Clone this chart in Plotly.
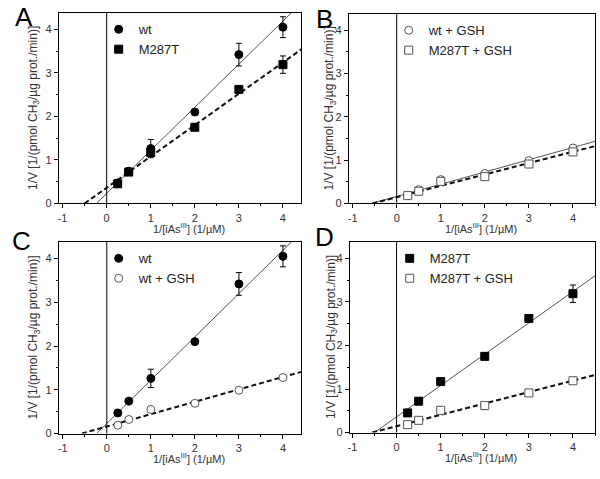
import plotly.graph_objects as go

# ---------------- data ----------------
conc = [0.25, 0.5, 1, 2, 3, 4]
wt = [0.47, 0.74, 1.26, 2.10, 3.42, 4.05]
wt_err = [0.0, 0.0, 0.21, 0.0, 0.26, 0.24]
m287t = [0.45, 0.72, 1.17, 1.75, 2.62, 3.19]
m287t_err = [0.0, 0.0, 0.0, 0.0, 0.0, 0.20]
wt_gsh = [0.19, 0.32, 0.55, 0.69, 0.99, 1.28]
m287t_gsh = [0.18, 0.28, 0.51, 0.62, 0.91, 1.19]

# linear fits (slope, intercept)
fit_wt = (0.99, 0.23)
fit_m287t = (0.72, 0.36)
fit_wt_gsh = (0.283, 0.16)
fit_m287t_gsh = (0.262, 0.145)

x_ticks = [-1, 0, 1, 2, 3, 4]
x_tick_labels = ["-1", "0", "1", "2", "3", "4"]
y_ticks = [0, 1, 2, 3, 4]
y_tick_labels = ["0", "1", "2", "3", "4"]

W, H = 600, 479
FONT = "Liberation Sans, Arial, sans-serif"

# panel geometry (px): x0, x1, ytop, ybottom, xrange, letter pos, ytitle offset
panels = {
    "A": dict(x0=57, x1=300, yt=13, yb=206, xr=[-1.086, 4.41], let=(22, 17), yto=25),
    "B": dict(x0=348, x1=595, yt=14, yb=206, xr=[-1.086, 4.50], let=(324, 19), yto=19),
    "C": dict(x0=57, x1=300, yt=245, yb=439, xr=[-1.09, 4.41], let=(20, 244), yto=25),
    "D": dict(x0=349, x1=595, yt=245, yb=438, xr=[-1.06, 4.50], let=(324, 240), yto=18),
}
YR = [0, 4.38]

fig = go.Figure()


def fit_line(fit, xr):
    s, b = fit
    xs = [-b / s, xr[1] + 0.2]
    ys = [s * v + b for v in xs]
    return xs, ys


def add_fit(fit, idx, dashed, xr):
    xs, ys = fit_line(fit, xr)
    ax = "" if idx == 1 else str(idx)
    fig.add_trace(go.Scatter(
        x=xs, y=ys, mode="lines", xaxis="x" + ax, yaxis="y" + ax,
        line=dict(color="#111111" if dashed else "#555555",
                  width=2 if dashed else 1,
                  dash="5px,3px" if dashed else "solid"),
        showlegend=False, hoverinfo="skip"))


def add_pts(yv, err, idx, name, symbol, filled, legend):
    ax = "" if idx == 1 else str(idx)
    fig.add_trace(go.Scatter(
        x=conc, y=yv, mode="markers", name=name, xaxis="x" + ax, yaxis="y" + ax,
        marker=dict(symbol=symbol, size=8,
                    color="black" if filled else "white",
                    line=dict(color="black" if filled else "#555555", width=1)),
        error_y=dict(type="data", array=err, visible=True,
                     color="black", thickness=1, width=3) if err is not None else None,
        legend=legend, showlegend=True))


# Panel A
add_fit(fit_wt, 1, False, panels["A"]["xr"])
add_fit(fit_m287t, 1, True, panels["A"]["xr"])
add_pts(wt, wt_err, 1, "wt", "circle", True, "legend")
add_pts(m287t, m287t_err, 1, "M287T", "square", True, "legend")
# Panel B
add_fit(fit_wt_gsh, 2, False, panels["B"]["xr"])
add_fit(fit_m287t_gsh, 2, True, panels["B"]["xr"])
add_pts(wt_gsh, None, 2, "wt + GSH", "circle", False, "legend2")
add_pts(m287t_gsh, None, 2, "M287T + GSH", "square", False, "legend2")
# Panel C
add_fit(fit_wt, 3, False, panels["C"]["xr"])
add_fit(fit_wt_gsh, 3, True, panels["C"]["xr"])
add_pts(wt, wt_err, 3, "wt", "circle", True, "legend3")
add_pts(wt_gsh, None, 3, "wt + GSH", "circle", False, "legend3")
# Panel D
add_fit(fit_m287t, 4, False, panels["D"]["xr"])
add_fit(fit_m287t_gsh, 4, True, panels["D"]["xr"])
add_pts(m287t, m287t_err, 4, "M287T", "square", True, "legend4")
add_pts(m287t_gsh, None, 4, "M287T + GSH", "square", False, "legend4")

layout = dict(
    width=W, height=H, margin=dict(l=0, r=0, t=0, b=0),
    paper_bgcolor="white", plot_bgcolor="white",
    font=dict(family=FONT, size=11, color="#333333"),
    annotations=[], shapes=[],
)

tick_font = dict(family=FONT, size=11, color="#333333")
legend_names = {"A": "legend", "B": "legend2", "C": "legend3", "D": "legend4"}
for i, (key, p) in enumerate(panels.items(), start=1):
    ax = "" if i == 1 else str(i)
    layout["xaxis" + ax] = dict(
        domain=[p["x0"] / W, p["x1"] / W], range=p["xr"], anchor="y" + ax,
        tickvals=x_ticks, ticktext=x_tick_labels, ticks="outside", ticklen=4,
        tickwidth=1, tickcolor="black", showline=True, linecolor="black",
        linewidth=1, mirror=True, showgrid=False, zeroline=False,
        tickfont=tick_font, fixedrange=True,
        minor=dict(dtick=0.5, tick0=0, ticks="outside", ticklen=2,
                   tickcolor="black", showgrid=False),
    )
    layout["yaxis" + ax] = dict(
        domain=[1 - p["yb"] / H, 1 - p["yt"] / H], range=YR, anchor="x" + ax,
        tickvals=y_ticks, ticktext=y_tick_labels, ticks="outside", ticklen=4,
        tickwidth=1, tickcolor="black", showline=True, linecolor="black",
        linewidth=1, mirror=True, showgrid=False, zeroline=False,
        tickfont=tick_font, fixedrange=True,
        minor=dict(dtick=0.5, tick0=0, ticks="outside", ticklen=2,
                   tickcolor="black", showgrid=False),
    )
    # vertical line at x = 0
    layout["shapes"].append(dict(
        type="line", xref="x" + ax, yref="y" + ax + " domain",
        x0=0, x1=0, y0=0, y1=1, line=dict(color="black", width=1)))
    # panel letter
    layout["annotations"].append(dict(
        text=key, xref="paper", yref="paper",
        x=p["let"][0] / W, y=1 - p["let"][1] / H,
        xanchor="center", yanchor="middle", showarrow=False,
        font=dict(family=FONT, size=26, color="black")))
    # x title
    layout["annotations"].append(dict(
        text="1/[iAs<sup>III</sup>] (1/µM)", xref="paper", yref="paper",
        x=((p["x0"] + p["x1"]) / 2 + 9) / W, y=1 - (p["yb"] + 25) / H,
        xanchor="center", yanchor="middle", showarrow=False,
        font=dict(family=FONT, size=11, color="#333333")))
    # y title
    layout["annotations"].append(dict(
        text="1/V [1/(pmol CH<sub>3</sub>/µg prot./min)]", xref="paper", yref="paper",
        x=(p["x0"] - p["yto"]) / W, y=1 - (p["yt"] + p["yb"]) / 2 / H,
        xanchor="center", yanchor="middle", textangle=-90, showarrow=False,
        font=dict(family=FONT, size=12, color="#333333")))
    # legend
    layout[legend_names[key]] = dict(
        x=(p["x0"] + 40) / W, y=1 - (p["yt"] + 1.5) / H, xanchor="left", yanchor="top",
        bgcolor="rgba(0,0,0,0)", borderwidth=0,
        font=dict(family=FONT, size=13, color="#222222"),
        tracegroupgap=0,
    )

fig.update_layout(**layout)
fig.write_html(
    "out.html",
    config={"displayModeBar": False},
    post_script="document.body.style.margin='0';document.body.style.padding='0';",
)
